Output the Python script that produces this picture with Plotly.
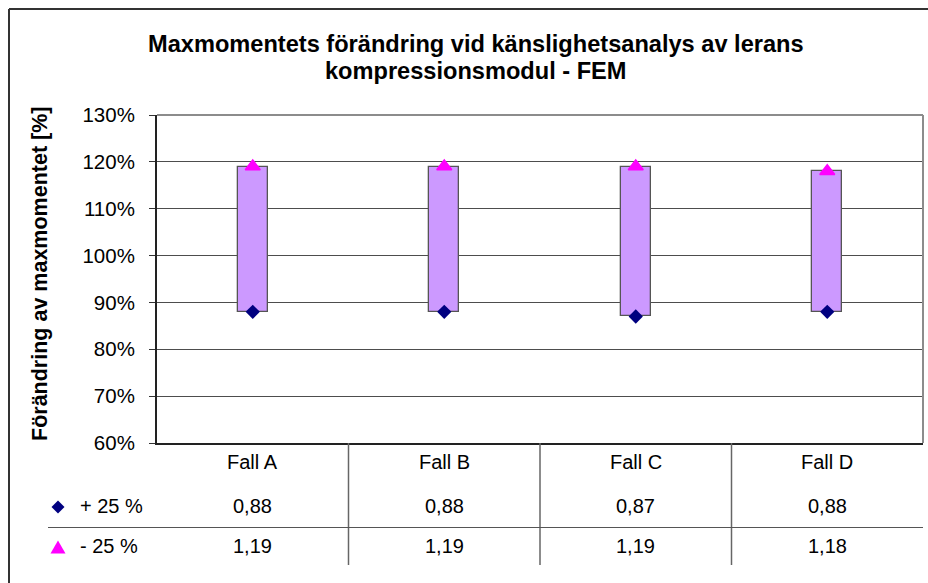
import plotly.graph_objects as go

# Sensitivity of the max moment to the clay compression modulus (FEM)
cases = ["Fall A", "Fall B", "Fall C", "Fall D"]
plus_25 = [0.88, 0.88, 0.87, 0.88]    # modulus +25 %
minus_25 = [1.19, 1.19, 1.19, 1.18]   # modulus -25 %
series_names = ["+ 25 %", "- 25 %"]
y_ticks = [0.6, 0.7, 0.8, 0.9, 1.0, 1.1, 1.2, 1.3]

W, H = 928, 583
FONT = "Arial, Liberation Sans, sans-serif"

# plot area in pixels
L, R, T, B = 157, 923, 115, 443


def fx(p):
    return p / W


def fy(p):
    return 1 - p / H


x_pos = list(range(len(cases)))
fig = go.Figure()

# high-low bars between the two load cases
fig.add_trace(go.Bar(
    x=x_pos,
    base=plus_25,
    y=[hi - lo for hi, lo in zip(minus_25, plus_25)],
    width=0.157,
    marker=dict(color="#CC99FF", line=dict(color="#555555", width=1.3)),
    showlegend=False,
    hoverinfo="skip",
))
fig.add_trace(go.Scatter(
    x=x_pos, y=plus_25, mode="markers", name=series_names[0],
    marker=dict(symbol="diamond", size=11, color="#000080"),
    cliponaxis=False, showlegend=False,
))
fig.add_trace(go.Scatter(
    x=x_pos, y=minus_25, mode="markers", name=series_names[1],
    marker=dict(symbol="triangle-up", size=13, color="#FF00FF",
                line=dict(color="#FF00FF", width=1.5)),
    cliponaxis=False, showlegend=False,
))

shapes = []
annotations = []

# outer chart frame
shapes.append(dict(type="line", xref="paper", yref="paper",
                   x0=fx(9), x1=fx(928), y0=fy(9), y1=fy(9),
                   line=dict(color="#333333", width=2)))
shapes.append(dict(type="line", xref="paper", yref="paper",
                   x0=fx(9), x1=fx(9), y0=fy(9), y1=fy(583),
                   line=dict(color="#333333", width=2)))

# grey plot-area border (top and right)
shapes.append(dict(type="line", xref="paper", yref="paper",
                   x0=fx(L), x1=fx(R), y0=fy(T), y1=fy(T),
                   line=dict(color="#8c8c8c", width=2)))
shapes.append(dict(type="line", xref="paper", yref="paper",
                   x0=fx(R), x1=fx(R), y0=fy(T), y1=fy(B),
                   line=dict(color="#8c8c8c", width=2)))

# data table grid
for i in range(1, len(cases)):
    shapes.append(dict(type="line", xref="x", yref="paper",
                       x0=i - 0.5, x1=i - 0.5, y0=fy(B), y1=fy(565),
                       line=dict(color="#666666", width=1.5)))
shapes.append(dict(type="line", xref="paper", yref="paper",
                   x0=fx(48), x1=fx(R), y0=fy(527.5), y1=fy(527.5),
                   line=dict(color="#555555", width=1.2)))

# table legend keys
cx, cy, r = 58, 507, 6.5
shapes.append(dict(type="path", xref="paper", yref="paper",
                   path=(f"M {fx(cx)},{fy(cy - r)} L {fx(cx + r)},{fy(cy)} "
                         f"L {fx(cx)},{fy(cy + r)} L {fx(cx - r)},{fy(cy)} Z"),
                   fillcolor="#000080", line=dict(width=0)))
cx, cy = 58, 547
shapes.append(dict(type="path", xref="paper", yref="paper",
                   path=(f"M {fx(cx)},{fy(cy - 6.5)} L {fx(cx + 7.5)},{fy(cy + 6.5)} "
                         f"L {fx(cx - 7.5)},{fy(cy + 6.5)} Z"),
                   fillcolor="#FF00FF", line=dict(width=0)))

row_y = [506, 546]
for name, yy in zip(series_names, row_y):
    annotations.append(dict(text=name, xref="paper", yref="paper",
                            x=fx(78), y=fy(yy), xanchor="left", yanchor="middle",
                            showarrow=False, font=dict(size=20, color="black", family=FONT)))

# table header and values
for i, c in enumerate(cases):
    annotations.append(dict(text=c, xref="x", yref="paper", x=i, y=fy(462),
                            xanchor="center", yanchor="middle", showarrow=False,
                            font=dict(size=20, color="black", family=FONT)))
    for vals, yy in zip([plus_25, minus_25], row_y):
        annotations.append(dict(text=f"{vals[i]:.2f}".replace(".", ","),
                                xref="x", yref="paper", x=i, y=fy(yy),
                                xanchor="center", yanchor="middle", showarrow=False,
                                font=dict(size=20, color="black", family=FONT)))

# chart title (two lines)
for txt, yy in [("Maxmomentets förändring vid känslighetsanalys av lerans", 44),
                ("kompressionsmodul - FEM", 71)]:
    annotations.append(dict(text=f"<b>{txt}</b>", xref="paper", yref="paper",
                            x=fx(476), y=fy(yy), xanchor="center", yanchor="middle",
                            showarrow=False,
                            font=dict(size=23.6, color="black", family=FONT)))

# y-axis title
annotations.append(dict(text="<b>Förändring av maxmomentet [%]</b>",
                        xref="paper", yref="paper", x=fx(40), y=fy(274),
                        xanchor="center", yanchor="middle", textangle=-90,
                        showarrow=False,
                        font=dict(size=21.5, color="black", family=FONT)))

fig.update_layout(
    width=W, height=H, autosize=False,
    margin=dict(l=0, r=0, t=0, b=0, pad=0, autoexpand=False),
    paper_bgcolor="white", plot_bgcolor="white",
    shapes=shapes, annotations=annotations,
    bargap=0, showlegend=False,
    font=dict(family=FONT, color="black"),
    xaxis=dict(domain=[fx(L), fx(R)], range=[-0.5, len(cases) - 0.5],
               showticklabels=False, showgrid=False, zeroline=False,
               showline=True, linecolor="#222222", linewidth=2, ticks="",
               automargin=False),
    yaxis=dict(domain=[fy(B), fy(T)], range=[0.6, 1.3],
               tickvals=y_ticks, tickformat=".0%",
               showgrid=True, gridcolor="#4d4d4d", gridwidth=1, zeroline=False,
               showline=True, linecolor="#222222", linewidth=2,
               ticks="outside", ticklen=6, tickcolor="#333333", tickwidth=1,
               ticklabelstandoff=10, automargin=False,
               tickfont=dict(size=20.5, color="black", family=FONT)),
)

fig.write_html("out.html")
